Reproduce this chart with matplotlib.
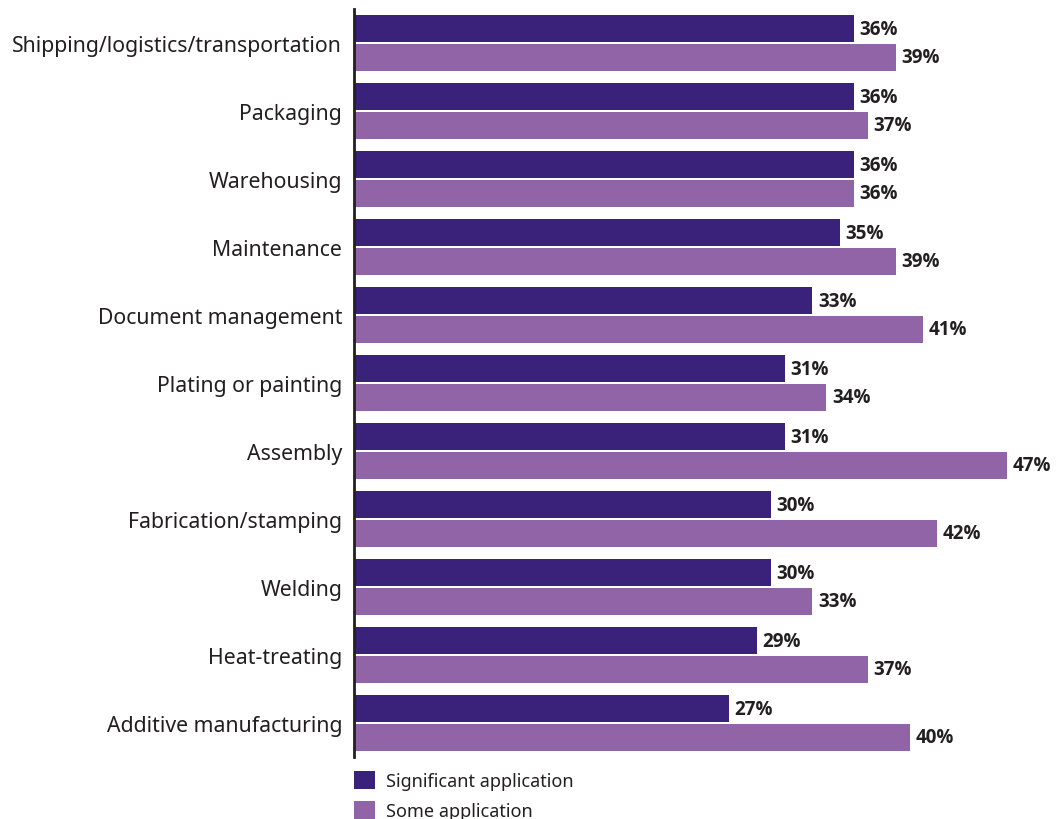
import matplotlib
matplotlib.use("Agg")
import matplotlib.pyplot as plt
import numpy as np

plt.rcParams['font.family'] = ['Noto Sans', 'DejaVu Sans']

# survey results, top to bottom
categories = [
    "Shipping/logistics/transportation",
    "Packaging",
    "Warehousing",
    "Maintenance",
    "Document management",
    "Plating or painting",
    "Assembly",
    "Fabrication/stamping",
    "Welding",
    "Heat-treating",
    "Additive manufacturing",
]
significant = [36, 36, 36, 35, 33, 31, 31, 30, 30, 29, 27]
some = [39, 37, 36, 39, 41, 34, 47, 42, 33, 37, 40]
series_names = ["Significant application", "Some application"]

dark = "#3a2179"
light = "#9163a7"
text_col = "#231f20"

W, H = 1057, 820
fig = plt.figure(figsize=(W / 100, H / 100), dpi=100)
ax = fig.add_axes([354 / W, (H - 758) / H, 694.5 / W, 748 / H])

y = np.arange(len(categories))
off = 0.213
h = 0.397
b1 = ax.barh(y - off, significant, height=h, color=dark, label=series_names[0])
b2 = ax.barh(y + off, some, height=h, color=light, label=series_names[1])

for bars, vals in ((b1, significant), (b2, some)):
    for rect, v in zip(bars, vals):
        ax.text(v + 0.4, rect.get_y() + rect.get_height() / 2, f"{v}%",
                va="center", ha="left", fontsize=13.5, fontweight="bold",
                family=["Open Sans", "DejaVu Sans"], color=text_col)

ax.set_xlim(0, 50)
ax.set_ylim(len(categories) - 0.5, -0.5)
ax.set_yticks(y)
ax.set_yticklabels(categories, fontsize=15.3, color=text_col)
ax.tick_params(axis="y", length=0, pad=8.5)
ax.set_xticks([])
for s in ("top", "right", "bottom"):
    ax.spines[s].set_visible(False)
ax.spines["left"].set_linewidth(2)
ax.spines["left"].set_color(text_col)

fig.legend(handles=[b1, b2], labels=series_names, loc="upper left",
           bbox_to_anchor=(347 / W, 1 - 765 / H), frameon=False,
           fontsize=13, handlelength=1.15, handleheight=1.15,
           handletextpad=0.6, labelspacing=0.6, borderaxespad=0,
           labelcolor=text_col)

fig.savefig("out.png", dpi=100)
